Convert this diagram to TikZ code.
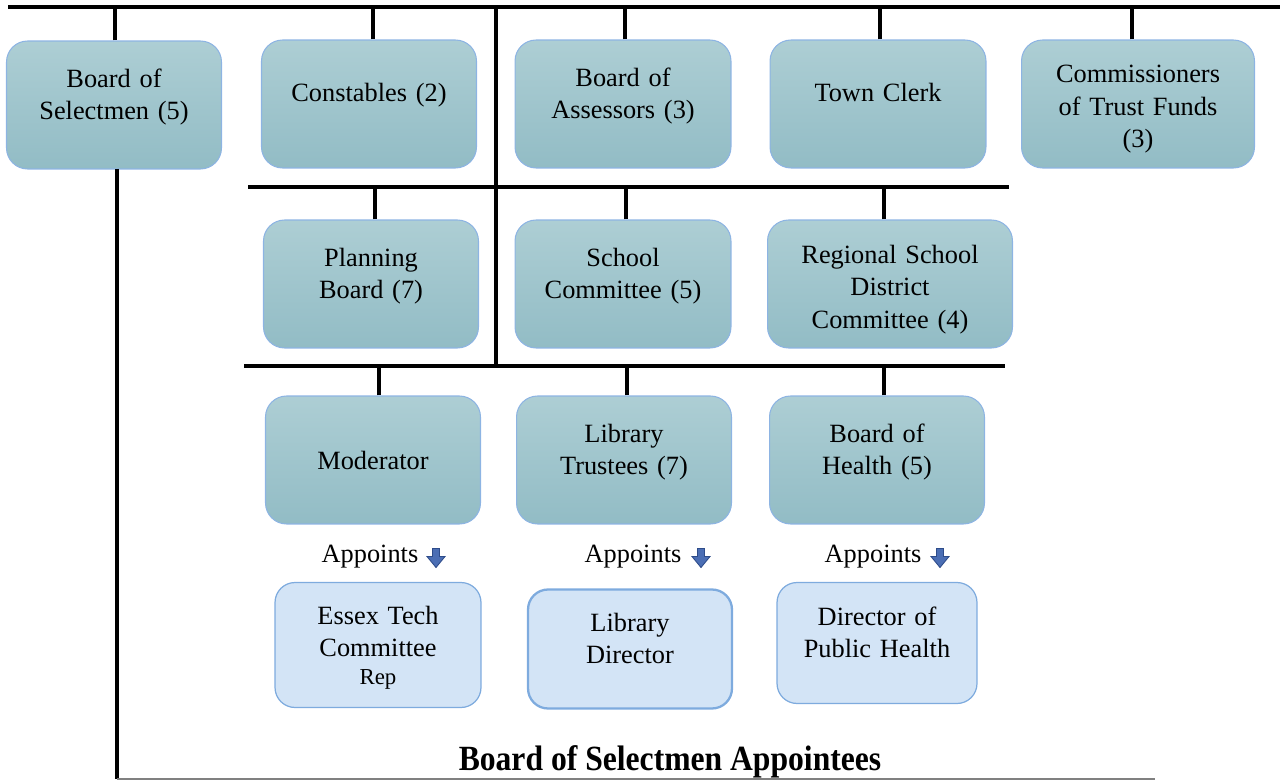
\documentclass[tikz,border=0pt]{standalone}
\usepackage{fontspec}
\setmainfont{Liberation Serif}
\usepackage{graphicx}
\usetikzlibrary{positioning}

\definecolor{tealtop}{HTML}{ADCED4}
\definecolor{tealbot}{HTML}{92BCC5}
\definecolor{boxline}{HTML}{8DB4E3}
\definecolor{apfill}{HTML}{D3E4F6}
\definecolor{apline}{HTML}{7EABDE}
\definecolor{arrowblue}{HTML}{4B6EB4}
\definecolor{arrowline}{HTML}{2E4C8A}

\newcommand{\boxfont}{\fontsize{15}{18.5}\selectfont}

\tikzset{
  office/.style={draw=boxline, line width=0.6pt, rounded corners=0.42cm,
    top color=tealtop, bottom color=tealbot, minimum width=4.3cm,
    minimum height=2.56cm, inner sep=0pt, text width=4.1cm, align=center,
    font=\boxfont},
  appointee/.style={draw=apline, line width=0.7pt, fill=apfill,
    rounded corners=0.4cm, inner sep=0pt, text width=3.9cm, align=center,
    font=\boxfont},
  one/.style={text depth=12.7pt},
  two/.style={text depth=30.5pt},
  three/.style={text depth=34pt},
  bus/.style={line width=1.8pt, black},
  baseline/.style={line width=0.9pt, gray},
  appt/.style={font=\boxfont, inner sep=0pt},
  dnarrow/.style={fill=arrowblue, draw=arrowline, line width=0.5pt},
  heading/.style={font={\fontsize{18}{20}\selectfont\bfseries}, inner sep=0pt}
}

\begin{document}
\begin{tikzpicture}[x=0.02cm,y=-0.02cm]
\useasboundingbox (0,0) rectangle (1280,780);

%primera fila
\node[office,two] (bos) at (114,105) {Board of\\ Selectmen (5)};
\node[office,one] (con) at (369,104) {Constables (2)};
\node[office,two,minimum width=4.32cm] (ass) at (623,104) {Board of\\ Assessors (3)};
\node[office,one,minimum width=4.32cm] (clerk) at (878,104) {Town Clerk};
\node[office,three,minimum width=4.66cm] (trust) at (1138,104) {Commissioners\\ of Trust Funds\\ (3)};

%segunda fila
\node[office,two] (plan) at (371,284) {Planning\\ Board (7)};
\node[office,two,minimum width=4.32cm] (school) at (623,284) {School\\ Committee (5)};
\node[office,three,minimum width=4.9cm] (reg) at (890,284) {Regional School\\ District\\ Committee (4)};

%tercera fila
\node[office] (mod) at (373,460) {Moderator};
\node[office,two] (libt) at (624,460) {Library\\ Trustees (7)};
\node[office,two] (boh) at (877,460) {Board of\\ Health (5)};

%nombrados
\node[appt] (ap1) at (370,557) {Appoints};
\node[appt] (ap2) at (633,557) {Appoints};
\node[appt] (ap3) at (873,557) {Appoints};
\coordinate (ar1) at (436,558);
\coordinate (ar2) at (701,558);
\coordinate (ar3) at (940,558);
\foreach \a in {ar1,ar2,ar3}
  \filldraw[dnarrow,shift={(\a)}] (-3.5,-9.5) -- (3.5,-9.5) -- (3.5,-1.5) -- (9,-1.5)
    -- (0,9.5) -- (-9,-1.5) -- (-3.5,-1.5) -- cycle;

\node[appointee,three,minimum width=4.12cm,minimum height=2.5cm] (essex) at (378,645)
  {Essex Tech\\ Committee\\[-2.5pt] {\fontsize{13}{16}\selectfont Rep}};
\node[appointee,two,line width=1.3pt,minimum width=4.08cm,minimum height=2.38cm] (libd) at (630,649) {Library\\ Director};
\node[appointee,two,minimum width=4cm,minimum height=2.42cm] (dph) at (877,643) {Director of\\ Public Health};

%lineas de conexion
\coordinate (t0) at (8,7);
\coordinate (t1) at (1280,7);
\draw[bus] (t0) -- (t1);
\foreach \b/\s in {bos/1,con/4,ass/2,clerk/2,trust/-6}
  \draw[bus] ([xshift=\s*0.02cm]\b.north) -- ([xshift=\s*0.02cm]\b.north |- t0);

\coordinate (r2a) at (248,187);
\coordinate (r2b) at (1009,187);
\draw[bus] (r2a) -- (r2b);
\foreach \b/\s in {plan/4,school/3,reg/-6}
  \draw[bus] ([xshift=\s*0.02cm]\b.north) -- ([xshift=\s*0.02cm]\b.north |- r2a);

\coordinate (r3a) at (244,366);
\coordinate (r3b) at (1005,366);
\draw[bus] (r3a) -- (r3b);
\foreach \b/\s in {mod/6,libt/3,boh/7}
  \draw[bus] ([xshift=\s*0.02cm]\b.north) -- ([xshift=\s*0.02cm]\b.north |- r3a);

\coordinate (d0) at (496,7);
\draw[bus] (d0) -- (d0 |- r3a);

%linea de la junta
\coordinate (b0) at (117,169);
\coordinate (b1) at (1155,779);
\draw[bus] (b0) -- (b0 |- b1);
\draw[baseline] (b0 |- b1) -- (b1);

\node[heading] (ttl) at (670,762) {\scalebox{1}[1.12]{Board of Selectmen Appointees}};
\end{tikzpicture}
\end{document}
